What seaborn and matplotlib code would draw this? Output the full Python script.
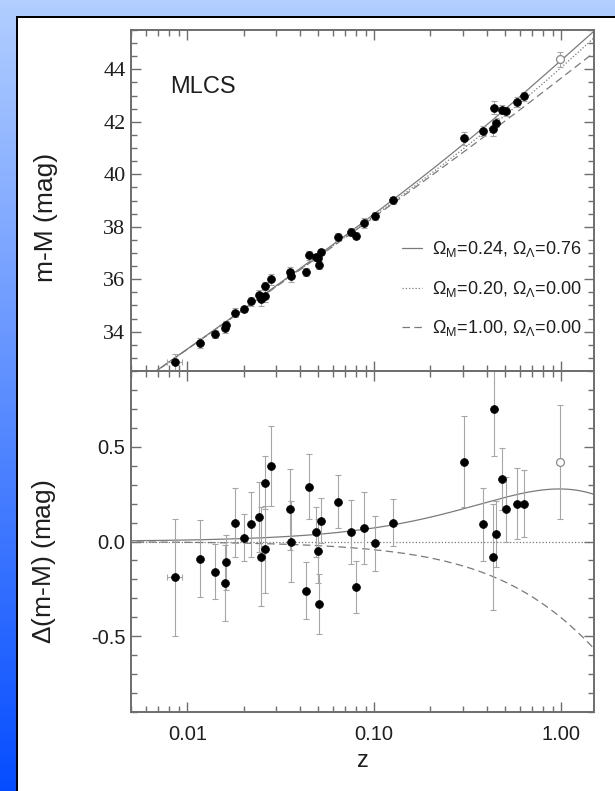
import numpy as np
import pandas as pd
import matplotlib
matplotlib.use("Agg")
import matplotlib.pyplot as plt
import seaborn as sns
from matplotlib.ticker import FixedLocator, FixedFormatter, MultipleLocator, NullFormatter, LogLocator
from matplotlib.lines import Line2D

# ---- SN Ia sample (MLCS distances) ----
redshift = [0.0086, 0.0117, 0.0141, 0.0162, 0.0160, 0.0181, 0.0200, 0.0220, 0.0241,
            0.0248, 0.0259, 0.0262, 0.0279, 0.0353, 0.0358, 0.0449, 0.0430, 0.0490,
            0.0517, 0.0502, 0.0504, 0.0643, 0.0750, 0.0800, 0.0880, 0.1012, 0.1254,
            0.304, 0.384, 0.435, 0.431, 0.447, 0.482, 0.506, 0.578, 0.630]
dist_mod = [32.83, 33.57, 33.92, 34.27, 34.14, 34.72, 34.87, 35.15, 35.39,
            35.23, 35.35, 35.75, 35.99, 36.26, 36.11, 36.91, 36.26, 36.84,
            37.04, 36.80, 36.53, 37.61, 37.80, 37.65, 38.16, 38.41, 39.01,
            41.37, 41.64, 42.53, 41.74, 41.96, 42.46, 42.40, 42.74, 42.97]
resid = [-0.19, -0.09, -0.16, -0.11, -0.22, 0.10, 0.02, 0.09, 0.13,
         -0.08, -0.04, 0.31, 0.40, 0.17, 0.00, 0.29, -0.26, 0.05,
         0.11, -0.05, -0.33, 0.21, 0.05, -0.24, 0.07, -0.01, 0.10,
         0.42, 0.09, 0.70, -0.08, 0.04, 0.33, 0.17, 0.20, 0.20]
sigma = [0.31, 0.205, 0.145, 0.145, 0.20, 0.18, 0.125, 0.17, 0.185,
         0.26, 0.23, 0.14, 0.21, 0.215, 0.215, 0.17, 0.15, 0.13,
         0.12, 0.17, 0.16, 0.14, 0.17, 0.135, 0.19, 0.147, 0.125,
         0.24, 0.195, 0.25, 0.28, 0.175, 0.165, 0.17, 0.187, 0.175]
# redshift uncertainty of the nearest object
z_err_nearest = 0.0008

# object shown with an open symbol
z_open = [0.99]
mu_open = [44.38]
resid_open = [0.42]
sigma_open = [0.30]

# ---- cosmological models ----
omega_m = [0.24, 0.20, 1.00]
omega_l = [0.76, 0.00, 0.00]
model_labels = [r"$\mathregular{\Omega_M}$=0.24, $\mathregular{\Omega_\Lambda}$=0.76",
                r"$\mathregular{\Omega_M}$=0.20, $\mathregular{\Omega_\Lambda}$=0.00",
                r"$\mathregular{\Omega_M}$=1.00, $\mathregular{\Omega_\Lambda}$=0.00"]
model_dashes = [(None, None), (1, 1.6), (6, 3.5)]
reference_model = 1          # residuals are taken relative to this model
hubble_const = 65.0          # km/s/Mpc
c_light = 299792.458


def lum_dist(z, om, ol):
    ok = 1.0 - om - ol
    out = []
    for zz in z:
        zs = np.linspace(0.0, zz, 400)
        e = np.sqrt(om * (1 + zs) ** 3 + ok * (1 + zs) ** 2 + ol)
        chi = np.trapezoid(1.0 / e, zs)
        if ok > 1e-9:
            chi = np.sinh(np.sqrt(ok) * chi) / np.sqrt(ok)
        elif ok < -1e-9:
            chi = np.sin(np.sqrt(-ok) * chi) / np.sqrt(-ok)
        out.append((1 + zz) * chi)
    return np.array(out) * c_light / hubble_const


def dist_modulus(z, om, ol):
    return 5 * np.log10(lum_dist(z, om, ol)) + 25


z_curve = np.geomspace(0.004, 1.6, 500)
mu_curves = [dist_modulus(z_curve, om, ol) for om, ol in zip(omega_m, omega_l)]
mu_ref = mu_curves[reference_model]

# ---- styling ----
sns.set_theme(style="ticks")
plt.rcParams["font.family"] = ["Liberation Sans", "DejaVu Sans"]
plt.rcParams["mathtext.fontset"] = "custom"
plt.rcParams["mathtext.rm"] = "Liberation Sans"
plt.rcParams["axes.unicode_minus"] = False

spine_col = "#6e6e6e"
curve_col = "#7a7a7a"
err_col = "#a6a6a6"
text_col = "#1e1e1e"

W, H = 615, 791
fig = plt.figure(figsize=(W / 100, H / 100), dpi=100)

# backdrop: blue gradient frame around a white panel
bg = fig.add_axes([0, 0, 1, 1], zorder=-5)
t = np.linspace(0, 1, H)[:, None, None]
c_top = np.array([0.70, 0.81, 1.0])
c_bot = np.array([0.02, 0.30, 1.0])
img = np.broadcast_to((1 - t) * c_top + t * c_bot, (H, W, 3)).copy()
img[17:, 17:] = 1.0
img[16:18, 16:] = 0.0
img[16:, 16:18] = 0.0
bg.imshow(img, aspect="auto", interpolation="nearest", extent=(0, 1, 0, 1))
bg.set_axis_off()

ax_top = fig.add_axes([131 / W, 1 - 371 / H, 463 / W, 341 / H])
ax_bot = fig.add_axes([131 / W, 1 - 712 / H, 463 / W, 341 / H])

df = pd.DataFrame({"z": redshift, "mu": dist_mod, "dmu": resid, "err": sigma})
xerr = np.zeros(len(redshift))
xerr[0] = z_err_nearest

# upper panel: Hubble diagram
handles = []
for mu, dsh, lab in zip(mu_curves, model_dashes, model_labels):
    kw = dict(color=curve_col, lw=0.9)
    if dsh[0] is not None:
        kw["dashes"] = dsh
    sns.lineplot(x=z_curve, y=mu, ax=ax_top, sort=False, estimator=None, **kw)
    h = Line2D([], [], color=curve_col, lw=0.9)
    if dsh[0] is not None:
        h.set_dashes(dsh)
    handles.append(h)

ax_top.errorbar(df["z"], df["mu"], yerr=df["err"], xerr=xerr, fmt="none",
                ecolor=err_col, elinewidth=0.8, capsize=2.5, capthick=0.8, zorder=2)
ax_top.errorbar(z_open, mu_open, yerr=sigma_open, fmt="none",
                ecolor=err_col, elinewidth=0.8, capsize=2.5, capthick=0.8, zorder=2)
sns.scatterplot(data=df, x="z", y="mu", ax=ax_top, color="black", s=32,
                edgecolor="black", linewidth=0.5, zorder=3)
ax_top.scatter(z_open, mu_open, s=32, facecolor="white", edgecolor="#8a8a8a",
               linewidth=0.9, zorder=3)

# lower panel: residuals relative to the reference model
for mu, dsh in zip(mu_curves, model_dashes):
    kw = dict(color=curve_col, lw=0.9)
    if dsh[0] is not None:
        kw["dashes"] = dsh
    sns.lineplot(x=z_curve, y=mu - mu_ref, ax=ax_bot, sort=False, estimator=None, **kw)

ax_bot.errorbar(df["z"], df["dmu"], yerr=df["err"], xerr=xerr, fmt="none",
                ecolor=err_col, elinewidth=0.8, capsize=2.5, capthick=0.8, zorder=2)
ax_bot.errorbar(z_open, resid_open, yerr=sigma_open, fmt="none",
                ecolor=err_col, elinewidth=0.8, capsize=2.5, capthick=0.8, zorder=2)
sns.scatterplot(data=df, x="z", y="dmu", ax=ax_bot, color="black", s=32,
                edgecolor="black", linewidth=0.5, zorder=3)
ax_bot.scatter(z_open, resid_open, s=32, facecolor="white", edgecolor="#8a8a8a",
               linewidth=0.9, zorder=3)

# axes formatting
for ax in (ax_top, ax_bot):
    ax.set_xscale("log")
    ax.set_xlim(0.005, 1.5)
    ax.xaxis.set_major_locator(FixedLocator([0.01, 0.1, 1.0]))
    ax.xaxis.set_minor_locator(LogLocator(base=10, subs=np.arange(2, 10), numticks=20))
    ax.xaxis.set_minor_formatter(NullFormatter())
    ax.tick_params(which="both", direction="in", top=True, right=True,
                   color=spine_col, width=1.0)
    ax.tick_params(which="major", length=7)
    ax.tick_params(which="minor", length=4)
    for s in ax.spines.values():
        s.set_color(spine_col)
        s.set_linewidth(1.4)
    ax.set_facecolor("white")

ax_top.set_ylim(32.5, 45.5)
ax_top.yaxis.set_major_locator(MultipleLocator(2))
ax_top.yaxis.set_minor_locator(MultipleLocator(0.5))
ax_top.xaxis.set_major_formatter(NullFormatter())
ax_top.tick_params(axis="y", labelsize=16, pad=4, labelcolor=text_col,
                   labelfontfamily="Liberation Serif")
ax_top.set_xlabel("")
ax_top.set_ylabel("m-M (mag)", fontsize=19, color=text_col)
ax_top.yaxis.set_label_coords(-0.157, 0.45)
ax_top.text(0.084, 0.833, "MLCS", transform=ax_top.transAxes, fontsize=17,
            va="center", ha="left", color=text_col)

leg = ax_top.legend(handles, model_labels, loc="upper left",
                    bbox_to_anchor=(0.585, 0.386), frameon=False, fontsize=13,
                    handlelength=1.1, handletextpad=0.55, labelspacing=1.08,
                    borderpad=0, borderaxespad=0)
for txt in leg.get_texts():
    txt.set_color(text_col)

ax_bot.set_ylim(-0.9, 0.9)
ax_bot.yaxis.set_major_locator(MultipleLocator(0.5))
ax_bot.yaxis.set_minor_locator(MultipleLocator(0.1))
ax_bot.xaxis.set_major_formatter(FixedFormatter(["0.01", "0.10", "1.00"]))
ax_bot.tick_params(axis="both", labelsize=14.5, labelcolor=text_col)
ax_bot.tick_params(axis="x", pad=9)
ax_bot.tick_params(axis="y", pad=4)
ax_bot.set_xlabel("z", fontsize=17, color=text_col, labelpad=5)
ax_bot.set_ylabel(r"$\mathregular{\Delta}$(m-M) (mag)", fontsize=19, color=text_col)
ax_bot.yaxis.set_label_coords(-0.157, 0.44)

fig.savefig("out.png", dpi=100)
